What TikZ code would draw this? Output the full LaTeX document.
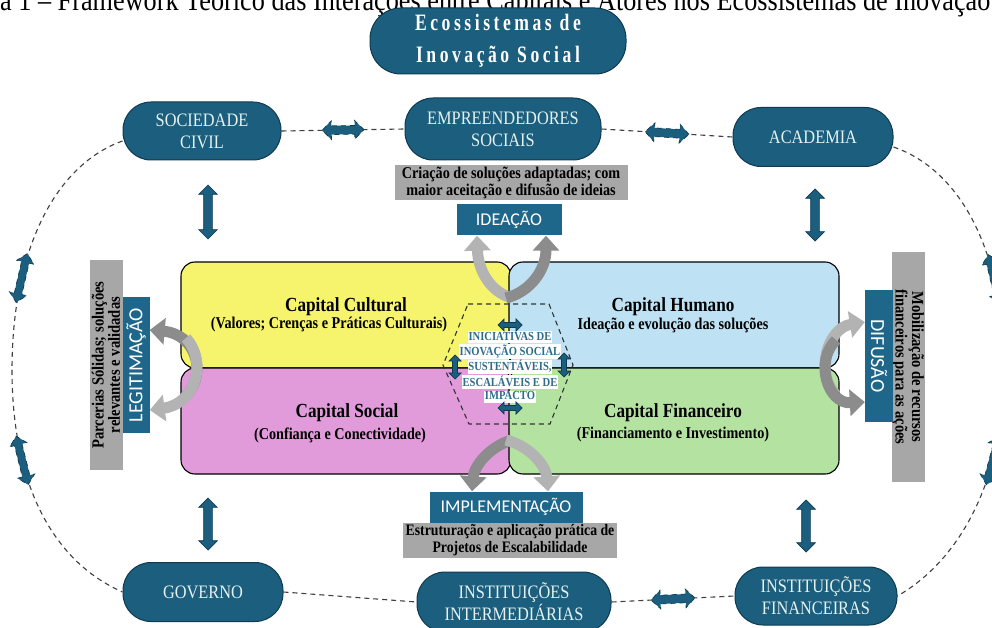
\documentclass[tikz,border=0pt]{standalone}
\usepackage{fontspec}
\setmainfont{Liberation Serif}[FakeStretch=0.86]
\newfontfamily\lblfont{Carlito}
\newfontfamily\titlefont{Liberation Serif}[FakeStretch=0.75,LetterSpace=15]
\usetikzlibrary{shapes.arrows,shapes.geometric,arrows.meta}
\definecolor{pillfill}{HTML}{1B5E7E}
\definecolor{pilldraw}{HTML}{0F3A50}
\definecolor{pilltext}{HTML}{E4F2F0}
\definecolor{labteal}{HTML}{1E678A}
\definecolor{graybox}{HTML}{A7A7A7}
\definecolor{cyellow}{HTML}{F6F46C}
\definecolor{cpink}{HTML}{E19BDA}
\definecolor{cblue}{HTML}{BEE2F4}
\definecolor{cgreen}{HTML}{B4E3A1}
\definecolor{hextext}{HTML}{2D6D8C}
\definecolor{garrowL}{HTML}{B3B3B3}
\definecolor{garrowD}{HTML}{8C8C8C}
\newcommand{\hexline}[1]{{\setlength{\fboxsep}{0.5pt}\colorbox{white}{\rule[-2.8pt]{0pt}{11.2pt}#1}}}
\begin{document}
\begin{tikzpicture}[x=1pt,y=-1pt,
 pill/.style={draw=pilldraw, line width=1pt, fill=pillfill, text=pilltext, rounded corners=28pt, align=center, font=\fontsize{19}{22}\selectfont, inner sep=0pt},
 dashline/.style={draw=black!75, line width=1.1pt, dash pattern=on 5pt off 4pt},
 dblarrow/.style={shape=double arrow, fill=pillfill, draw=pilldraw, line width=0.7pt, inner xsep=0pt, inner ysep=4pt, double arrow head extend=5pt, double arrow head indent=0pt, minimum height=46pt},
 smallarrow/.style={dblarrow, inner ysep=2.2pt, double arrow head extend=3.5pt, minimum height=24pt},
 capbox/.style={draw=black, line width=1.1pt, rounded corners=14pt, minimum width=330pt, minimum height=106pt},
 captitle/.style={font=\fontsize{20}{22}\selectfont\bfseries},
 capsub/.style={font=\fontsize{16.5}{18}\selectfont\bfseries},
 graylab/.style={fill=graybox, align=center, font=\fontsize{16.5}{17}\selectfont\bfseries, inner sep=0pt},
 teallab/.style={fill=labteal, text=white, font=\lblfont\fontsize{18}{20}\selectfont, inner sep=0pt},
 garrow/.style={line width=11pt, -{Triangle[width=26pt,length=15pt]}},
]
\useasboundingbox (0,0) rectangle (992,628);
\fill[white] (0,0) rectangle (992,628);

% caption fragment
\node[anchor=base west, inner sep=0pt, font=\fontsize{30.5}{30}\selectfont] (cap) at (0,11) {\llap{Figur}a 1 – Framework Teórico das Interações entre Capitais e Atores nos Ecossistemas de Inovação Social};

% title
\node[pill, minimum width=256pt, minimum height=66pt, rounded corners=31pt, text=white, font=\titlefont\bfseries\fontsize{23.5}{32}\selectfont] (title) at (498,41) {Ecossistemas de\\Inovação Social};

% actors
\node[pill, minimum width=158pt, minimum height=58pt] (soc) at (202,131) {SOCIEDADE\\CIVIL};
\node[pill, minimum width=196pt, minimum height=62pt] (emp) at (503,129) {EMPREENDEDORES\\SOCIAIS};
\node[pill, minimum width=160pt, minimum height=59pt] (acad) at (813,137) {ACADEMIA};
\node[pill, minimum width=160pt, minimum height=59pt] (gov) at (203,592) {GOVERNO};
\node[pill, minimum width=194pt, minimum height=60pt] (inter) at (514,602) {INSTITUIÇÕES\\INTERMEDIÁRIAS};
\node[pill, minimum width=162pt, minimum height=58pt] (fin) at (816,596) {INSTITUIÇÕES\\FINANCEIRAS};

% dashed links between actors
\draw[dashline] (soc.east) -- (emp.west) node[dblarrow, midway, sloped, minimum height=42pt] {};
\draw[dashline] (emp.east) -- (acad.west) node[dblarrow, midway, sloped, minimum height=44pt] {};
\draw[dashline] (gov.east) -- (inter.west);
\draw[dashline] (inter.east) -- (fin.west) node[dblarrow, midway, sloped, minimum height=44pt] {};

% outer arcs
\coordinate (lmid) at (12,370);
\coordinate (rmid) at (1004,370);
\draw[dashline] ([yshift=-10pt]soc.west) .. controls (55,165) and (12,250) .. (lmid) node[dblarrow, pos=0.72, sloped, minimum height=50pt, inner ysep=3.5pt] {};
\draw[dashline] (lmid) .. controls (12,480) and (50,560) .. (gov.west) node[dblarrow, pos=0.3, sloped, minimum height=50pt, inner ysep=3.5pt] {};
\draw[dashline] ([yshift=-10pt]acad.east) .. controls (960,170) and (1004,250) .. (rmid) node[dblarrow, pos=0.72, sloped, minimum height=50pt, inner ysep=3.5pt] {};
\draw[dashline] (rmid) .. controls (1004,480) and (960,560) .. (fin.east) node[dblarrow, pos=0.3, sloped, minimum height=50pt, inner ysep=3.5pt] {};

% capital boxes
\node[capbox, fill=cyellow] (cult) at (346,315) {};
\node[capbox, fill=cblue] (hum) at (674,315) {};
\node[capbox, fill=cpink] (socc) at (346,421) {};
\node[capbox, fill=cgreen] (finc) at (674,421) {};

\node[captitle] (cultt) at (346,307) {Capital Cultural};
\node[capsub] (cults) at (329,325) {(Valores; Crenças e Práticas Culturais)};
\node[captitle] (humt) at (673,307) {Capital Humano};
\node[capsub] (hums) at (673,325) {Ideação e evolução das soluções};
\node[captitle] (socct) at (347,413) {Capital Social};
\node[capsub] (soccs) at (340,435) {(Confiança e Conectividade)};
\node[captitle] (fint) at (673,413) {Capital Financeiro};
\node[capsub] (fins) at (673,435) {(Financiamento e Investimento)};

% vertical double arrows actor <-> capitals
\node[dblarrow, rotate=90, minimum height=54pt] (va1) at (208,212) {};
\node[dblarrow, rotate=90, minimum height=52pt] (va2) at (815,215) {};
\node[dblarrow, rotate=90, minimum height=52pt] (va3) at (208,524) {};
\node[dblarrow, rotate=90, minimum height=52pt] (va4) at (806,526) {};

% labels
\node[graylab, minimum width=233pt, minimum height=35pt] (gidea) at (511,183) {Criação de soluções adaptadas; com\\maior aceitação e difusão de ideias};
\node[teallab, minimum width=105pt, minimum height=31pt] (idea) at (509,220) {IDEAÇÃO};
\node[teallab, minimum width=153pt, minimum height=31pt] (impl) at (506,507) {IMPLEMENTAÇÃO};
\node[graylab, minimum width=214pt, minimum height=35pt, font=\fontsize{16}{17}\selectfont\bfseries] (gimpl) at (510,540) {Estruturação e aplicação prática de\\Projetos de Escalabilidade};
\node[graylab, rotate=90, minimum width=210pt, minimum height=33pt, font=\fontsize{17}{15}\selectfont\bfseries] (gleg) at (106,365) {Parcerias Sólidas; soluções\\relevantes e validadas};
\node[teallab, rotate=90, minimum width=136pt, minimum height=27pt, font=\lblfont\fontsize{20}{20}\selectfont] (leg) at (136,365) {LEGITIMAÇÃO};
\node[graylab, rotate=-90, minimum width=230pt, minimum height=33pt, font=\fontsize{17}{15}\selectfont\bfseries] (gdif) at (908,367) {Mobilização de recursos\\financeiros para as ações};
\node[teallab, rotate=-90, minimum width=132pt, minimum height=28pt, font=\lblfont\fontsize{20}{20}\selectfont] (dif) at (879,356) {DIFUSÃO};

% gray curved arrows
\draw[garrow, garrowL] (512,298) .. controls (490,292) and (478,270) .. (idea.south -| 477,0);
\draw[garrow, garrowD] (506,298) .. controls (530,292) and (546,270) .. (idea.south -| 546,0);
\draw[garrow, garrowD] (512,440) .. controls (490,446) and (474,466) .. (impl.north -| 472,0);
\draw[garrow, garrowL] (506,440) .. controls (530,446) and (546,466) .. (impl.north -| 548,0);
\draw[garrow, garrowD] (186,396) .. controls (208,372) and (195,334) .. (leg.south |- 0,330);
\draw[garrow, garrowL] (186,338) .. controls (208,362) and (195,404) .. (leg.south |- 0,410);
\draw[garrow, garrowL] (836,395) .. controls (814,372) and (828,328) .. (dif.south |- 0,322);
\draw[garrow, garrowD] (836,340) .. controls (814,362) and (828,404) .. (dif.south |- 0,402);

% hexagon
\draw[draw=black!80, dash pattern=on 5pt off 4pt, line width=1.1pt] (468,304) -- (549,304) -- (573,365) -- (550,424) -- (469,424) -- (443,365) -- cycle;
\node[align=center, text=hextext, font=\fontsize{12.3}{13.4}\selectfont\bfseries, inner sep=0pt] (hext) at (510,367)
 {\hexline{INICIATIVAS DE}\\\hexline{INOVAÇÃO SOCIAL}\\\hexline{SUSTENTÁVEIS,}\\\hexline{ESCALÁVEIS E DE}\\\hexline{IMPACTO}};
\node[smallarrow] (ha1) at (510,325) {};
\node[smallarrow] (ha2) at (510,408) {};
\node[smallarrow, rotate=90] (ha3) at (455,367) {};
\node[smallarrow, rotate=90] (ha4) at (564,365) {};
\end{tikzpicture}
\end{document}
